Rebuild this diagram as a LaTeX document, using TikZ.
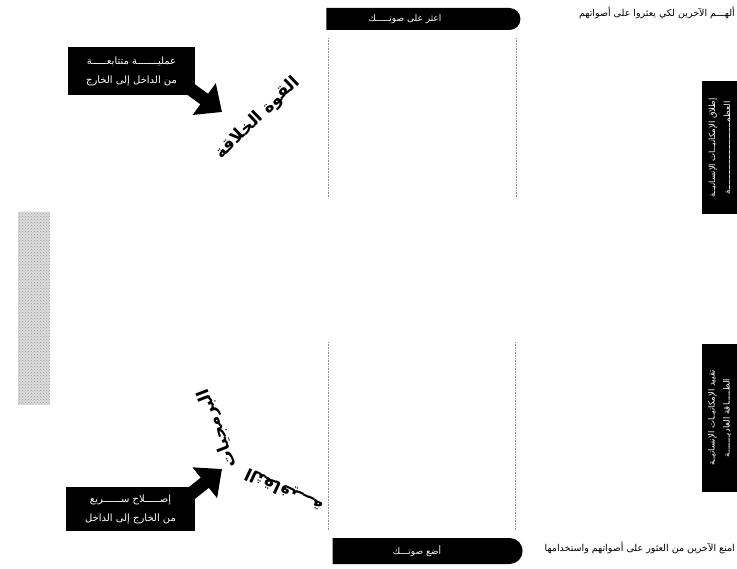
\documentclass[tikz,border=0pt]{standalone}
\usepackage{fontspec}
\usepackage{tikz}
\usetikzlibrary{
  arrows.meta,
  positioning,
  shapes.misc,
  patterns,
}
\newfontfamily\arabicfont[Script=Arabic]{DejaVu Sans}
\TeXXeTstate=1
\newcommand{\artext}[1]{{\arabicfont\beginR #1\endR}}
\definecolor{ink}{HTML}{000000}
\definecolor{paper}{HTML}{FFFFFF}
\definecolor{scan}{HTML}{9A9A9A}
\definecolor{faint}{HTML}{8C8C8C}
\tikzset{
  >=Stealth,
  tab/.style={
    shape=rounded rectangle,
    rounded rectangle left arc=none,
    fill=ink,
    text=paper,
    minimum height=22pt,
    inner sep=0pt,
    font=\fontsize{9}{10}\selectfont,
  },
  sidebar/.style={
    fill=ink,
    text=paper,
    rotate=90,
    minimum height=36pt,
    align=center,
    inner sep=1pt,
    font=\fontsize{8.5}{15}\selectfont,
  },
  callout/.style={
    fill=ink,
    text=paper,
    align=center,
    inner sep=2pt,
    font=\fontsize{10}{19}\selectfont,
  },
  caption/.style={font=\fontsize{9.5}{10}\selectfont, inner sep=0pt},
  bigword/.style={font=\fontsize{17}{18}\selectfont\bfseries, inner sep=0pt},
  blockarrow/.style={draw=ink, line width=13pt, -{Triangle[length=22pt,width=38pt]}},
  column/.style={draw=faint, line width=0.6pt, densely dotted},
}

\begin{document}
\begin{tikzpicture}[x=1pt,y=-1pt]
  \useasboundingbox (0,0) rectangle (737,569);

  % scanned strip on the far left
  \fill[scan!35] (18,212) rectangle (50,405);
  \fill[pattern=crosshatch dots, pattern color=scan] (18,212) rectangle (50,405);

  % upper road
  \node[tab, minimum width=194pt] (findbar) at (423,19) {\artext{اعثر على صوتـــــك}\hspace*{36pt}};
  \node[caption, anchor=east] (inspire) at (735,13) {\artext{ألهـــم الآخرين لكي يعثروا على أصواتهم}};
  \node[sidebar, minimum width=133pt] (greatbar) at (719.5,148)
    {\artext{إطلاق الإمكانيــات الإنسانيــة}\\\artext{العظمـــــــــــــــــــــــــــة}};

  \draw[column] (328,38) -- (328,198);
  \draw[column] (516,38) -- (516,198);

  \node[callout, minimum width=127pt, minimum height=48pt] (seqbox) at (131.5,71)
    {\artext{عمليـــــــة متتابعـــــة}\\\artext{من الداخل إلى الخارج}};
  \coordinate (seqtip) at (222,112);
  \draw[blockarrow] ([shift={(-10,-10)}]seqbox.south east) -- (seqtip);

  \node[bigword, rotate=44] (creative) at (258,118) {\artext{القوة الخلاقة}};

  % lower road
  \draw[column] (328,342) -- (328,530);
  \draw[column] (515,342) -- (515,530);

  \node[sidebar, minimum width=147pt] (mediocrebar) at (719.5,418)
    {\artext{تقييد الإمكانيــات الإنسانيــة}\\\artext{الطـــــاقة العاديـــــــة}};

  \node[callout, minimum width=129pt, minimum height=44pt] (fixbox) at (130.5,509)
    {\artext{إصـــــلاح ســــــريع}\\\artext{من الخارج إلى الداخل}};
  \coordinate (fixtip) at (222,469);
  \draw[blockarrow] ([shift={(-8,10)}]fixbox.north east) -- (fixtip);

  \node[bigword, rotate=111] (software) at (218,428) {\artext{البرمجيات}};
  \node[bigword, rotate=155] (culture) at (284,490) {\artext{الثقافيـــة}};

  \node[tab, minimum width=190pt, minimum height=26pt] (losebar) at (427,551) {\artext{أضع صوتـــك}\hspace*{20pt}};
  \node[caption, anchor=east] (suppress) at (735,548) {\artext{امنع الآخرين من العثور على أصواتهم واستخدامها}};
\end{tikzpicture}
\end{document}
